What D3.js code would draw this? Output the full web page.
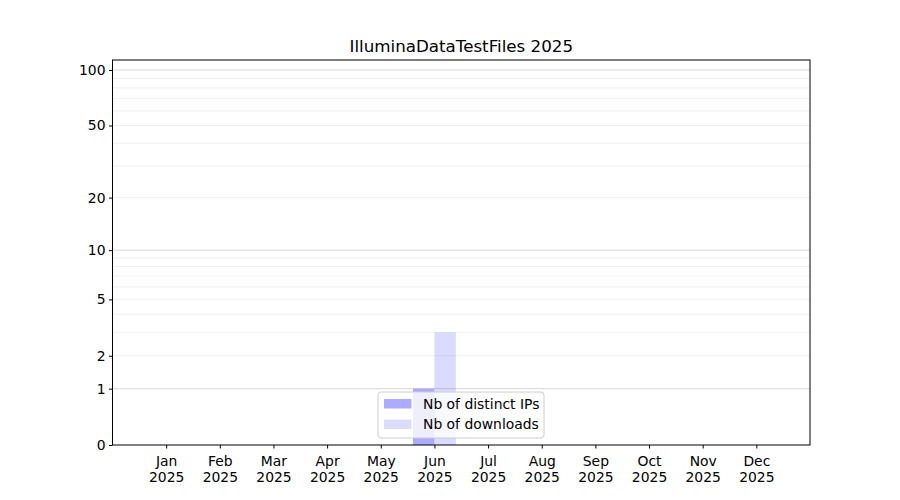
<!DOCTYPE html>
<html><head><meta charset="utf-8">
<script src="https://cdn.jsdelivr.net/npm/d3@7"></script>
<style>body{margin:0;background:#fff}svg{display:block;font-family:"DejaVu Sans",sans-serif}</style>
</head><body>
<svg id="c" width="900" height="500"></svg>
<script>
const title = "IlluminaDataTestFiles 2025";
const months = ["Jan","Feb","Mar","Apr","May","Jun","Jul","Aug","Sep","Oct","Nov","Dec"];
const yearLabel = "2025";
const distinctIPs = [0,0,0,0,0,1,0,0,0,0,0,0];
const downloads   = [0,0,0,0,0,3,0,0,0,0,0,0];
const yTicks = [0,1,2,5,10,20,50,100];
const majorGrid = [1,10,100];
const minorGrid = [2,3,4,5,6,7,8,9,20,30,40,50,60,70,80,90];
const seriesNames = ["Nb of distinct IPs","Nb of downloads"];
const yMax = 113.2;

const svg = d3.select("#c");
const L=112.5, R=810, T=60, B=445;
const x = d3.scaleLinear().domain([-1,12]).range([L,R]);
const y = d3.scaleSymlog().constant(1).domain([0,yMax]).range([B,T]);
const barW = 0.4;

const g = svg.append("g");
// grid
g.selectAll(".minor").data(minorGrid).join("line")
  .attr("x1",L).attr("x2",R).attr("y1",d=>y(d)).attr("y2",d=>y(d))
  .attr("stroke","#ebebeb").attr("stroke-width",0.8);
g.selectAll(".major").data(majorGrid).join("line")
  .attr("x1",L).attr("x2",R).attr("y1",d=>y(d)).attr("y2",d=>y(d))
  .attr("stroke","#cccccc").attr("stroke-width",0.8);

// bars
g.selectAll(".b1").data(distinctIPs).join("rect")
  .attr("x",(d,i)=>x(i-barW)).attr("width",(d,i)=>x(i)-x(i-barW))
  .attr("y",d=>y(d)).attr("height",d=>B-y(d))
  .attr("fill","#0000ff").attr("fill-opacity",0.33);
g.selectAll(".b2").data(downloads).join("rect")
  .attr("x",(d,i)=>x(i)).attr("width",(d,i)=>x(i+barW)-x(i))
  .attr("y",d=>y(d)).attr("height",d=>B-y(d))
  .attr("fill","#0000ff").attr("fill-opacity",0.14);

// frame
svg.append("rect").attr("x",L).attr("y",T).attr("width",R-L).attr("height",B-T)
  .attr("fill","none").attr("stroke","#000").attr("stroke-width",1);

// y axis
const ya = svg.append("g").attr("transform",`translate(${L},0)`)
  .call(d3.axisLeft(y).tickValues(yTicks).tickFormat(d3.format("d")).tickSize(3.5).tickPadding(3.5));
ya.select(".domain").remove();
ya.selectAll("text").attr("font-size","13.9px").attr("fill","#000").style("font-family","DejaVu Sans");
ya.selectAll("line").attr("stroke","#000");

// x axis
const xa = svg.append("g").attr("transform",`translate(0,${B})`)
  .call(d3.axisBottom(x).tickValues(d3.range(months.length)).tickFormat(()=>"").tickSize(3.5));
xa.select(".domain").remove();
xa.selectAll("line").attr("stroke","#000");
xa.selectAll(".tick").each(function(d){
  const t = d3.select(this).append("text").attr("fill","#000").attr("text-anchor","middle")
    .attr("font-size","13.9px").style("font-family","DejaVu Sans");
  t.append("tspan").attr("x",0).attr("y",21).text(months[d]);
  t.append("tspan").attr("x",0).attr("y",37).text(yearLabel);
});

// title
svg.append("text").attr("x",(L+R)/2).attr("y",52).attr("text-anchor","middle")
  .attr("font-size","16.7px").attr("fill","#000").text(title);

// legend
const lg = svg.append("g");
lg.append("rect").attr("x",378).attr("y",392).attr("width",166).attr("height",46).attr("rx",3)
  .attr("fill","#fff").attr("fill-opacity",0.8).attr("stroke","#cccccc");
const cols = [0.33,0.14];
seriesNames.forEach((n,i)=>{
  lg.append("rect").attr("x",384).attr("y",399+i*20.5).attr("width",27.5).attr("height",9.5)
    .attr("fill","#0000ff").attr("fill-opacity",cols[i]);
  lg.append("text").attr("x",423).attr("y",408.5+i*20.5).attr("font-size","13.9px").attr("fill","#000").text(n);
});
</script>
</body></html>
